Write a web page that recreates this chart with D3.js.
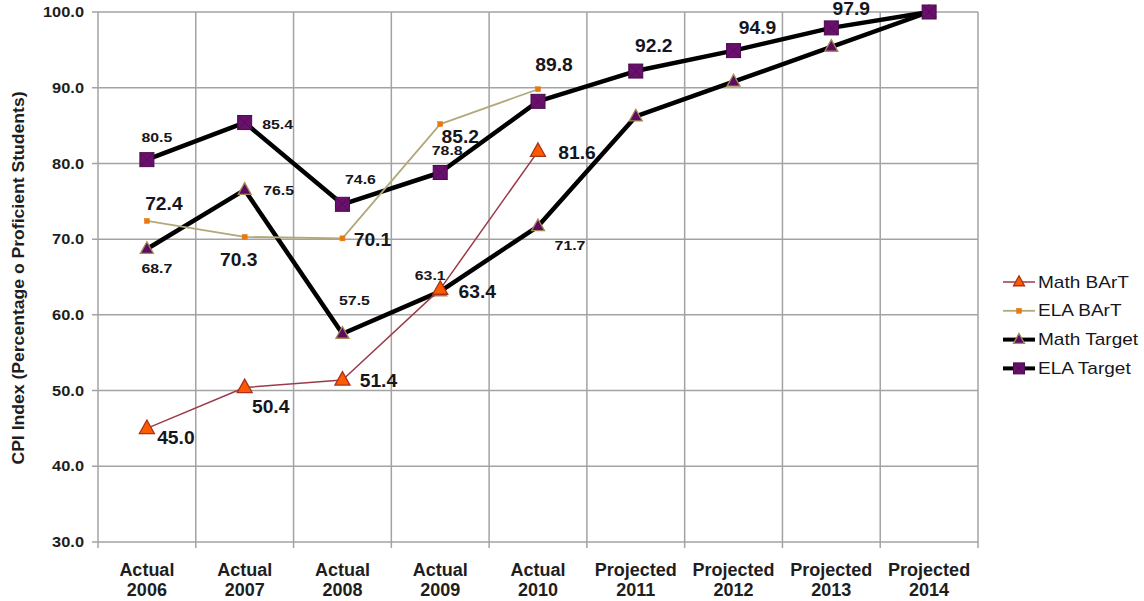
<!DOCTYPE html>
<html>
<head>
<meta charset="utf-8">
<script src="https://cdn.jsdelivr.net/npm/d3@7"></script>
<style>
  html, body { margin: 0; padding: 0; background: #fff; }
  svg { display: block; font-family: "Liberation Sans", Arial, Helvetica, sans-serif; }
</style>
</head>
<body>
<svg id="chart" width="1144" height="601"></svg>
<script>
// ---- data ----
const periods = ["Actual", "Actual", "Actual", "Actual", "Actual", "Projected", "Projected", "Projected", "Projected"];
const years = ["2006", "2007", "2008", "2009", "2010", "2011", "2012", "2013", "2014"];
const mathBart = [45.0, 50.4, 51.4, 63.4, 81.6, null, null, null, null];
const elaBart = [72.4, 70.3, 70.1, 85.2, 89.8, null, null, null, null];
const mathTarget = [68.7, 76.5, 57.5, 63.1, 71.7, 86.2, 90.8, 95.4, 100.0];
const elaTarget = [80.5, 85.4, 74.6, 78.8, 88.2, 92.2, 94.9, 97.9, 100.0];
const yTicks = [30, 40, 50, 60, 70, 80, 90, 100];
const seriesNames = ["Math BArT", "ELA BArT", "Math Target", "ELA Target"];
const yTitle = "CPI Index (Percentage o Proficient Students)";

// ---- label placement (index: [dx, dy, big]) ----
const labelPlacement = {
  "Math BArT": {0: [29, 9, 1], 1: [26, 19, 1], 2: [36, 1, 1], 3: [37, 3, 1], 4: [39, 1, 1]},
  "ELA BArT": {0: [17, -17, 1], 1: [-6, 23, 1], 2: [30, 1, 1], 3: [20, 13, 1], 4: [16, -25, 1]},
  "Math Target": {0: [10, 20, 0], 1: [34, 1, 0], 2: [12, -33, 0], 3: [-10, -16, 0], 4: [32, 19, 0]},
  "ELA Target": {0: [10, -22, 0], 1: [33, 2, 0], 2: [18, -25, 0], 3: [7, -22, 0], 5: [18, -25, 1], 6: [24, -23, 1], 7: [20, -19, 1]}
};

const svg = d3.select("#chart");
const L = 98, R = 978, T = 12, B = 542;

const x = d3.scaleBand().domain(years).range([L, R]).padding(0);
const y = d3.scaleLinear().domain([30, 100]).range([B, T]);
const cx = i => x(years[i]) + x.bandwidth() / 2;

// grid
const grid = svg.append("g");
grid.selectAll("line.h").data(yTicks).join("line")
  .attr("x1", L - 6).attr("x2", R).attr("y1", d => y(d)).attr("y2", d => y(d))
  .attr("stroke", "#a3a3a3").attr("stroke-width", 1.5);
const vb = years.map(d => x(d)).concat([R]);
grid.selectAll("line.v").data(vb).join("line")
  .attr("x1", d => d).attr("x2", d => d).attr("y1", T).attr("y2", B + 6)
  .attr("stroke", "#a3a3a3").attr("stroke-width", 1.5);

// y axis tick labels
svg.append("g").selectAll("text").data(yTicks).join("text")
  .attr("transform", d => `translate(84,${y(d)}) scale(1.13,1)`)
  .attr("text-anchor", "end").attr("dominant-baseline", "central")
  .attr("font-size", 14.5).attr("font-weight", "bold").attr("fill", "#1e1e1e")
  .text(d => d.toFixed(1));

// x axis labels
const xl = svg.append("g").selectAll("text").data(years).join("text")
  .attr("x", d => x(d) + x.bandwidth() / 2).attr("y", 576)
  .attr("text-anchor", "middle").attr("font-size", 18).attr("font-weight", "bold").attr("fill", "#1e1e1e");
xl.append("tspan").attr("x", d => x(d) + x.bandwidth() / 2).attr("dy", 0).text((d, i) => periods[i]);
xl.append("tspan").attr("x", d => x(d) + x.bandwidth() / 2).attr("dy", 20).text(d => d);

// y title
svg.append("text")
  .attr("transform", `translate(24,${(T + B) / 2 + 1}) rotate(-90) scale(1.1,1)`)
  .attr("text-anchor", "middle").attr("font-size", 16).attr("font-weight", "bold").attr("fill", "#1e1e1e")
  .text(yTitle);

// series styles
const styles = {
  "Math BArT": {data: mathBart, line: "#9c3a48", lw: 1.5, marker: "tri", fill: "#ff5a00", stroke: "#a8321c", size: 15},
  "ELA BArT": {data: elaBart, line: "#b3a87a", lw: 1.8, marker: "sq", fill: "#e57a12", stroke: "#e57a12", size: 5},
  "Math Target": {data: mathTarget, line: "#000", lw: 4.5, marker: "tri", fill: "#5e0a62", stroke: "#a58a55", size: 13},
  "ELA Target": {data: elaTarget, line: "#000", lw: 4.5, marker: "xsq", fill: "#6a0f6e", stroke: "#4a0a4c", size: 14}
};

function drawMarker(g, st, px, py) {
  const s = st.size;
  if (st.marker === "tri") {
    const h = s * 0.9;
    g.append("path").attr("d", `M${px},${py - h * 0.62} L${px + s / 2},${py + h * 0.38} L${px - s / 2},${py + h * 0.38} Z`)
      .attr("fill", st.fill).attr("stroke", st.stroke).attr("stroke-width", 1.3);
  } else if (st.marker === "sq") {
    g.append("rect").attr("x", px - s / 2).attr("y", py - s / 2).attr("width", s).attr("height", s)
      .attr("fill", st.fill).attr("stroke", st.stroke).attr("stroke-width", 0.5);
  } else {
    g.append("rect").attr("x", px - s / 2).attr("y", py - s / 2).attr("width", s).attr("height", s)
      .attr("fill", st.fill).attr("stroke", st.stroke).attr("stroke-width", 1);
    g.append("path").attr("d", `M${px - s / 2},${py - s / 2} L${px + s / 2},${py + s / 2} M${px + s / 2},${py - s / 2} L${px - s / 2},${py + s / 2}`)
      .attr("stroke", "#4a104c").attr("stroke-width", 0.8);
  }
}

const order = ["Math Target", "ELA Target", "ELA BArT", "Math BArT"];
const lineGen = d3.line().defined(d => d.v != null).x(d => cx(d.i)).y(d => y(d.v));
order.forEach(name => {
  const st = styles[name];
  const pts = st.data.map((v, i) => ({v, i}));
  const g = svg.append("g");
  g.append("path").datum(pts).attr("d", lineGen).attr("fill", "none")
    .attr("stroke", st.line).attr("stroke-width", st.lw).attr("stroke-linejoin", "round");
  pts.filter(d => d.v != null).forEach(d => drawMarker(g, st, cx(d.i), y(d.v)));
});

// data labels
order.forEach(name => {
  const st = styles[name];
  const pl = labelPlacement[name];
  Object.keys(pl).forEach(k => {
    const i = +k, [dx, dy, big] = pl[k];
    const v = st.data[i];
    svg.append("text")
      .attr("transform", `translate(${cx(i) + dx},${y(v) + dy}) scale(${big ? 1.07 : 1.22},1)`)
      .attr("text-anchor", "middle").attr("dominant-baseline", "central")
      .attr("font-size", big ? 18 : 13).attr("font-weight", "bold").attr("fill", "#161620")
      .text(v.toFixed(1));
  });
});

// legend
const legend = svg.append("g");
seriesNames.forEach((name, k) => {
  const st = styles[name];
  const ly = 282 + k * 28.8;
  legend.append("line").attr("x1", 1003).attr("x2", 1035).attr("y1", ly).attr("y2", ly)
    .attr("stroke", st.line).attr("stroke-width", st.lw === 4.5 ? 4 : st.lw);
  const ms = Object.assign({}, st, {size: st.marker === "sq" ? 5 : 11});
  drawMarker(legend, ms, 1019, ly);
  legend.append("text").attr("transform", `translate(1038,${ly}) scale(1.12,1)`).attr("dominant-baseline", "central")
    .attr("font-size", 17).attr("fill", "#161620").text(name);
});
</script>
</body>
</html>
